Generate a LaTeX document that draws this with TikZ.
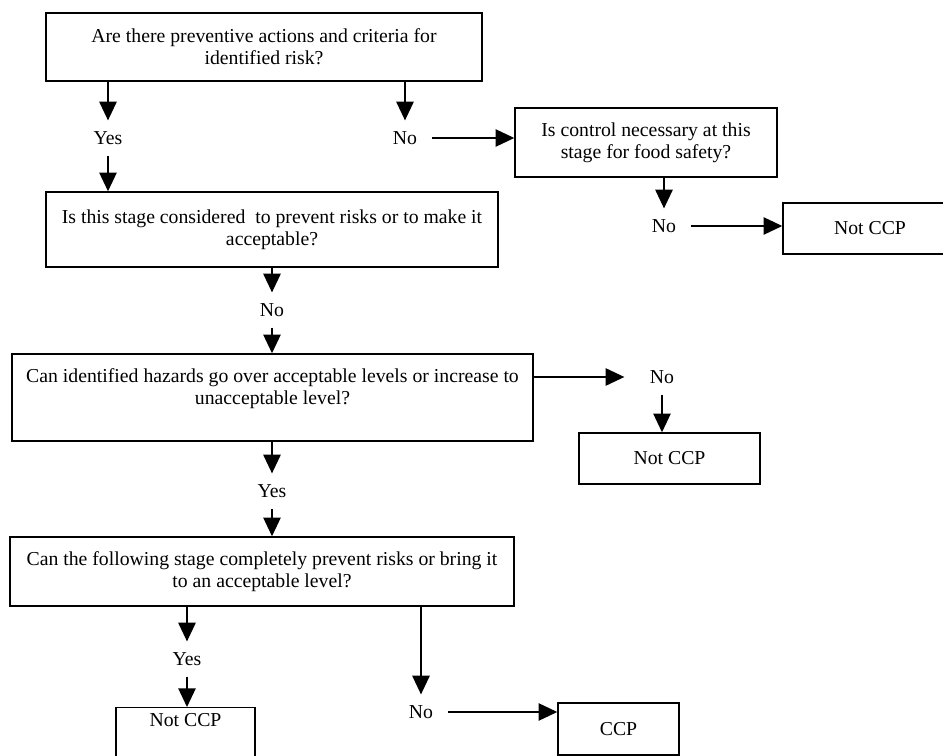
\documentclass[tikz,border=0pt]{standalone}
\usepackage{fontspec}
\setmainfont{Liberation Serif}
\usetikzlibrary{arrows.meta}
\begin{document}
\begin{tikzpicture}[x=0.75pt, y=-0.75pt, font=\fontsize{14.8}{16.3}\selectfont]
    \tikzstyle{box} = [draw, line width=1.1pt, align=center, inner sep=2pt]
    \tikzstyle{answer} = [inner xsep=11pt, inner ysep=8pt, text height=10pt, text depth=0pt]
    \tikzstyle{arrow} = [line width=1.1pt, -{Triangle[length=14pt, width=13pt]}]
    \useasboundingbox (0, 0) rectangle (943, 756);
    \clip (0, 0) rectangle (943, 756);
    \node[box, minimum width=327pt, minimum height=51pt] (risk) at (264, 47)
        {Are there preventive actions and criteria for\\identified risk?};
    \node[box, minimum width=339pt, minimum height=56.25pt] (stage) at (272, 229.5)
        {Is this stage considered~ to prevent risks or to make it\\acceptable?};
    \node[box, minimum width=196.5pt, minimum height=51.75pt] (control) at (646, 142.5)
        {Is control necessary at this\\stage for food safety?};
    \node[box, minimum width=130.5pt, minimum height=38.25pt] (notccpa) at (870, 228.5) {Not CCP};
    \node[box, minimum width=390.75pt, minimum height=65.25pt] (hazard) at (272.5, 397.5)
        {Can identified hazards go over acceptable levels or increase to\\unacceptable level?\\\mbox{}};
    \node[box, minimum width=135.75pt, minimum height=38.25pt] (notccpb) at (669.5, 458.5) {Not CCP};
    \node[box, minimum width=378pt, minimum height=51.75pt] (following) at (262, 571.5)
        {Can the following stage completely prevent risks or bring it\\to an acceptable level?};
    \node[box, anchor=north, minimum width=104.25pt, text height=10pt, text depth=30pt, inner ysep=4pt]
        (notccpc) at (185.5, 707) {Not CCP};
    \node[box, minimum width=90.75pt, minimum height=39pt] (ccp) at (618.5, 729) {CCP};

    \node[answer] (yesa) at (108, 138) {Yes};
    \node[answer] (noa) at (405, 138) {No};
    \node[answer] (nob) at (664, 226) {No};
    \node[answer] (noc) at (272, 310) {No};
    \node[answer] (nod) at (662, 377) {No};
    \node[answer] (yesb) at (272, 491) {Yes};
    \node[answer] (yesc) at (187, 659) {Yes};
    \node[answer] (noe) at (421, 712) {No};

    \draw[arrow] (risk.south -| yesa) -- (yesa);
    \draw[arrow] (yesa) -- (yesa |- stage.north);
    \draw[arrow] (risk.south -| noa) -- (noa);
    \draw[arrow] (noa) -- (noa -| control.west);
    \draw[arrow] (control.south -| nob) -- (nob);
    \draw[arrow] (nob) -- (nob -| notccpa.west);
    \draw[arrow] (stage.south -| noc) -- (noc);
    \draw[arrow] (noc) -- (noc |- hazard.north);
    \draw[arrow, shorten >=8pt] (hazard.east |- nod) -- (nod);
    \draw[arrow] (nod) -- (nod |- notccpb.north);
    \draw[arrow] (hazard.south -| yesb) -- (yesb);
    \draw[arrow] (yesb) -- (yesb |- following.north);
    \draw[arrow] (following.south -| yesc) -- (yesc);
    \draw[arrow] (yesc) -- (yesc |- notccpc.north);
    \draw[arrow] (following.south -| noe) -- (noe);
    \draw[arrow] (noe) -- (noe -| ccp.west);
\end{tikzpicture}
\end{document}
